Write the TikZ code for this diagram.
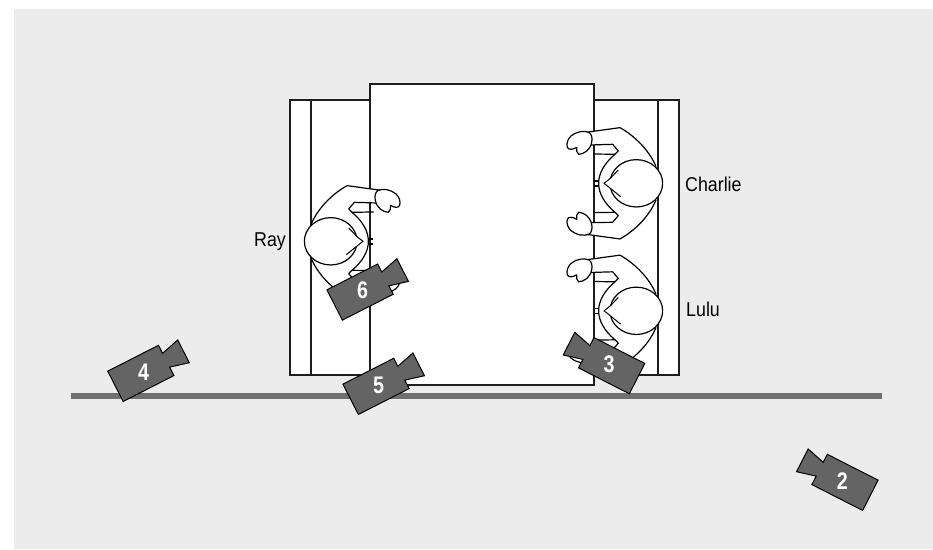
\documentclass[tikz,border=0pt]{standalone}
\usepackage{fontspec}
\setmainfont{Liberation Sans}
\newfontfamily\narrowlabel[FakeStretch=0.89]{Liberation Sans}
\newfontfamily\narrownum[FakeStretch=0.82]{Liberation Sans}
\definecolor{bggray}{HTML}{ECECEC}
\definecolor{camgray}{HTML}{646464}
\definecolor{railgray}{HTML}{707070}
\definecolor{inkline}{HTML}{1E1E1E}
\tikzset{
  furn/.style={draw=inkline,line width=1.3pt,fill=white},
  furnline/.style={draw=inkline,line width=1.3pt},
  personline/.style={draw=black,line width=1.2pt,fill=white,line join=round},
  personstub/.style={draw=black,line width=1.2pt,line join=round},
  faceline/.style={draw=black,line width=1pt,line join=round},
  cambody/.style={draw=black,line width=1pt,fill=camgray,line join=miter},
  camnum/.style={text=white,font=\narrownum\bfseries\fontsize{24}{24}\selectfont,inner sep=0pt},
  namelabel/.style={text=black,font=\narrowlabel\fontsize{20}{20}\selectfont,inner sep=0pt,anchor=base west}
}
% local coordinates: head centre at origin, facing left, units = 1/3 px
\newcommand{\sitter}{%
  \draw[personstub] (-137,-7) -- (-118,-7) (-137,8) -- (-118,8);
  \draw[personline] (50,-50) .. controls (32,-95) and (-10,-140) .. (-58,-167)
    -- (-160,-153) -- (-146,-115) -- (-80,-117) -- (-63,-97) -- (-73,-87)
    .. controls (-105,-60) and (-122,-30) .. (-122,0)
    .. controls (-122,30) and (-105,60) .. (-73,87)
    -- (-63,97) -- (-80,117) -- (-146,118) -- (-160,153) -- (-58,167)
    .. controls (-10,140) and (32,95) .. (50,50);
  \draw[personstub] (-73,-87) -- (-138,-88) (-73,87) -- (-138,88);
  \foreach \s in {1,-1}{
    \draw[personline,yscale=\s] (-150,-152) .. controls (-165,-160) and (-190,-155) .. (-205,-142)
      .. controls (-215,-132) and (-219,-120) .. (-216,-108)
      .. controls (-213,-100) and (-200,-100) .. (-188,-108)
      .. controls (-190,-100) and (-188,-92) .. (-182,-87)
      .. controls (-165,-88) and (-148,-100) .. (-143,-122)
      .. controls (-140,-135) and (-143,-147) .. (-150,-152) -- cycle;
  }
  \draw[personline] (-9,0) ellipse [x radius=79,y radius=71];
  \fill[white] (-87,-15) -- (-68,-15) -- (-68,15) -- (-87,15) -- (-106,0) -- cycle;
  \draw[faceline] (-63,-40) -- (-87,-15) .. controls (-93,-9) and (-100,-5) .. (-106,0)
    .. controls (-100,5) and (-93,9) .. (-87,15) -- (-56,40);
}
% local coordinates: label centre at origin, lens pointing right
\newcommand{\camshape}{%
  \draw[cambody] (-31.5,-17) -- (25.5,-17) -- (25.5,-8) -- (45,-13) -- (45,12.5) -- (25.5,7.5) -- (25.5,17) -- (-31.5,17) -- cycle;
}
\begin{document}
\begin{tikzpicture}[x=1pt,y=-1pt]
\useasboundingbox (0,0) rectangle (933,549);
\fill[white] (0,0) rectangle (933,549);
\fill[bggray] (14,9) rectangle (933,549);
% chairs
\draw[furn] (290,100) rectangle (679,375);
\draw[furnline] (311,100) -- (311,375);
\draw[furnline] (658,100) -- (658,375);
% table
\draw[furn] (370,84) rectangle (594,385);
% people
\begin{scope}[shift={(639.3,183.3)},x=0.3333pt,y=-0.3333pt]\sitter\end{scope}
\begin{scope}[shift={(639.3,310.8)},x=0.3333pt,y=-0.3333pt]\sitter\end{scope}
\begin{scope}[shift={(327.7,241.3)},x=-0.3333pt,y=-0.3333pt]\sitter\end{scope}
% rail
\coordinate (railL) at (71,396);
\coordinate (railR) at (882,396);
\draw[railgray,line width=6pt] (railL) -- (railR);
% cameras
\begin{scope}[shift={(143.5,372)},rotate=27]\camshape\end{scope}
\begin{scope}[shift={(378.7,385)},rotate=27]\camshape\end{scope}
\begin{scope}[shift={(362.7,290.7)},rotate=27]\camshape\end{scope}
\begin{scope}[shift={(609,364.3)},xscale=-1,rotate=27]\camshape\end{scope}
\begin{scope}[shift={(842.3,481)},xscale=-1,rotate=27]\camshape\end{scope}
\node[camnum] (cam4) at (143.5,372) {4};
\node[camnum] (cam5) at (378.7,385) {5};
\node[camnum] (cam6) at (362.7,290.7) {6};
\node[camnum] (cam3) at (609,364.3) {3};
\node[camnum] (cam2) at (842.3,481) {2};
% names
\node[namelabel] (ray) at (254,246) {Ray};
\node[namelabel] (charlie) at (685,191) {Charlie};
\node[namelabel] (lulu) at (686,316) {Lulu};
\end{tikzpicture}
\end{document}
